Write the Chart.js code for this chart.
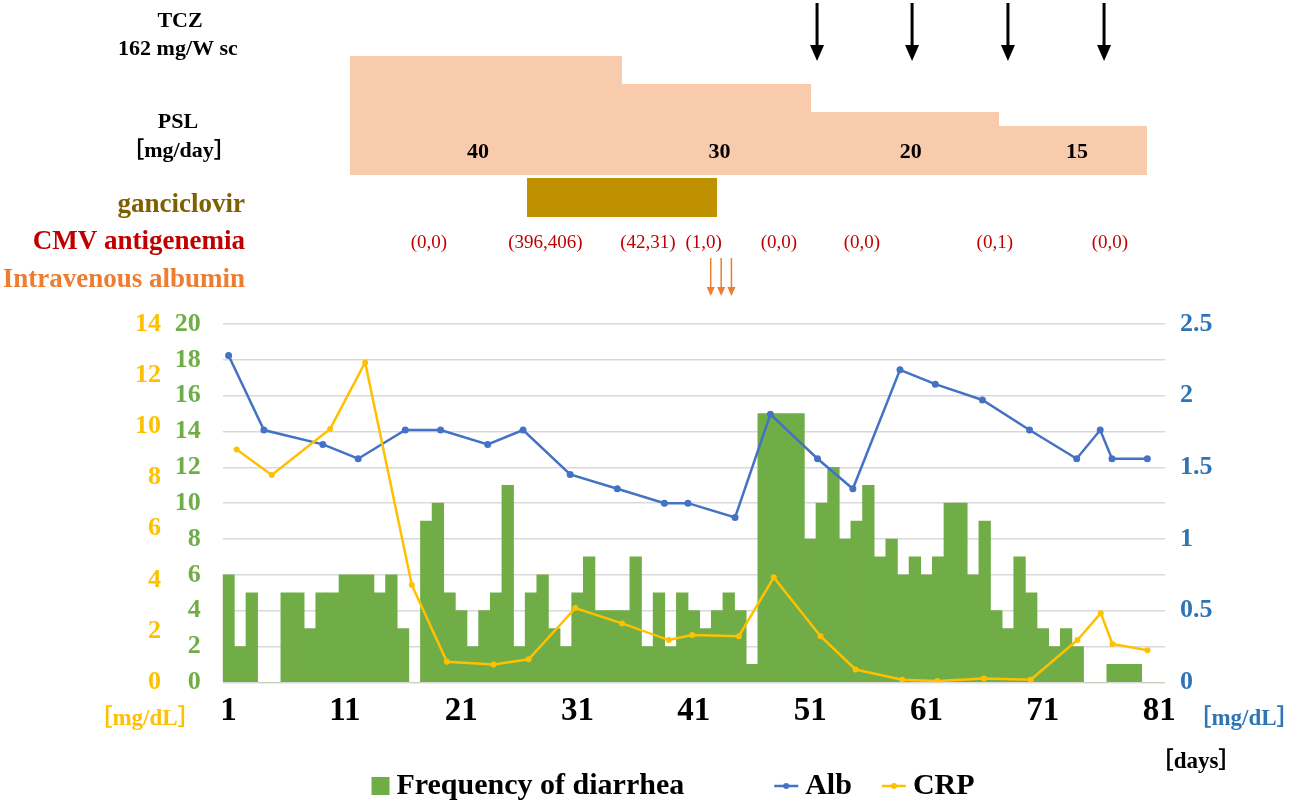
<!DOCTYPE html>
<html>
<head>
<meta charset="utf-8">
<script src="https://cdn.jsdelivr.net/npm/chart.js@4.4.1/dist/chart.umd.min.js"></script>
<style>
  html, body { margin: 0; padding: 0; background: #fff; }
  #wrap { width: 1299px; height: 805px; }
</style>
</head>
<body>
<div id="wrap"><canvas id="chart" width="1299" height="805"></canvas></div>
<script>
// day categories for the bars
const days = Array.from({ length: 81 }, (_, i) => String(i + 1));

// frequency of diarrhea per day (day 1 .. 81)
const diarrhea = [
  6, 2, 5, 0, 0, 5, 5, 3, 5, 5,
  6, 6, 6, 5, 6, 3, 0, 9, 10, 5,
  4, 2, 4, 5, 11, 2, 5, 6, 3, 2,
  5, 7, 4, 4, 4, 7, 2, 5, 2, 5,
  4, 3, 4, 5, 4, 1, 15, 15, 15, 15,
  8, 10, 12, 8, 9, 11, 7, 8, 6, 7,
  6, 7, 10, 10, 6, 9, 4, 3, 7, 5,
  3, 2, 3, 2, 0, 0, 1, 1, 1, 0, 0
];

// lab sampling days and values
const sampleDays = [1, 4, 9, 12, 16, 19, 23, 26, 30, 34, 38, 40, 44, 47, 51, 54, 58, 61, 65, 69, 73, 75, 76, 79];
const albValues = [2.28, 1.76, 1.66, 1.56, 1.76, 1.76, 1.66, 1.76, 1.45, 1.35, 1.25, 1.25, 1.15, 1.87, 1.56, 1.35, 2.18, 2.08, 1.97, 1.76, 1.56, 1.76, 1.56, 1.56];
const crpValues = [9.1, 8.1, 9.9, 12.5, 3.8, 0.8, 0.7, 0.9, 2.9, 2.3, 1.65, 1.85, 1.8, 4.1, 1.8, 0.5, 0.1, 0.05, 0.15, 0.1, 1.65, 2.7, 1.5, 1.25];

// treatment timeline (in day units)
const pslDoses = [40, 30, 20, 15];
const pslStarts = [11.44, 34.82, 51.07, 67.23];
const pslEnd = 79.95;
const pslLabelDays = [22.44, 43.2, 59.65, 73.93];
const ganciclovir = [26.66, 42.99];
const tczDays = [51.59, 59.76, 68.0, 76.26];
const cmvDays = [18.23, 28.24, 37.05, 41.85, 48.31, 55.45, 66.87, 76.77];
const cmvLabels = ["(0,0)", "(396,406)", "(42,31)", "(1,0)", "(0,0)", "(0,0)", "(0,1)", "(0,0)"];
const albuminDays = [42.45, 43.35, 44.23];

const serif = "'Liberation Serif', 'Times New Roman', serif";
const cjkSerif = "'Liberation Serif', 'Noto Sans CJK JP', serif";
const GREEN = '#70AD47', BLUE = '#4472C4', YELLOW = '#FFC000', AXBLUE = '#2E75B6';

// legend markers, drawn at the right end of a 34px canvas
function marker(color, kind) {
  const c = document.createElement('canvas');
  c.width = 34; c.height = 22;
  const g = c.getContext('2d');
  g.fillStyle = color;
  g.strokeStyle = color;
  if (kind === 'box') {
    g.fillRect(15, 2, 18, 18);
  } else {
    g.lineWidth = 2.5;
    g.beginPath(); g.moveTo(9, 11); g.lineTo(33, 11); g.stroke();
    g.beginPath(); g.arc(21, 11, 3, 0, Math.PI * 2); g.fill();
  }
  return c;
}
const markers = [marker(GREEN, 'box'), marker(BLUE, 'line'), marker(YELLOW, 'line')];

const timeline = {
  id: 'timeline',
  afterDraw(chart) {
    const g = chart.ctx;
    const xs = chart.scales.x;
    const dayX = d => xs.getPixelForValue(d - 1);
    g.save();

    // PSL steps
    g.fillStyle = '#F8CBAD';
    pslDoses.forEach((dose, i) => {
      const x0 = dayX(pslStarts[i]);
      const x1 = dayX(i + 1 < pslStarts.length ? pslStarts[i + 1] : pslEnd);
      const h = 7 + 2.8 * dose;
      g.fillRect(x0, 175 - h, x1 - x0, h);
    });
    g.fillStyle = '#000';
    g.font = 'bold 22px ' + serif;
    g.textAlign = 'center';
    g.textBaseline = 'middle';
    pslDoses.forEach((dose, i) => g.fillText(String(dose), dayX(pslLabelDays[i]), 152));

    // ganciclovir
    g.fillStyle = '#BF9000';
    g.fillRect(dayX(ganciclovir[0]), 178, dayX(ganciclovir[1]) - dayX(ganciclovir[0]), 39);

    // TCZ arrows
    g.strokeStyle = '#000';
    g.fillStyle = '#000';
    g.lineWidth = 3;
    tczDays.forEach(d => {
      const x = dayX(d);
      g.beginPath(); g.moveTo(x, 3); g.lineTo(x, 48); g.stroke();
      g.beginPath(); g.moveTo(x - 7, 45); g.lineTo(x + 7, 45); g.lineTo(x, 61); g.closePath(); g.fill();
    });

    // CMV antigenemia values
    g.fillStyle = '#C00000';
    g.font = '19px ' + serif;
    cmvDays.forEach((d, i) => g.fillText(cmvLabels[i], dayX(d), 243));

    // intravenous albumin arrows
    g.strokeStyle = '#ED7D31';
    g.fillStyle = '#ED7D31';
    g.lineWidth = 1.5;
    albuminDays.forEach(d => {
      const x = dayX(d);
      g.beginPath(); g.moveTo(x, 258); g.lineTo(x, 289); g.stroke();
      g.beginPath(); g.moveTo(x - 4, 287); g.lineTo(x + 4, 287); g.lineTo(x, 296); g.closePath(); g.fill();
    });

    // row labels
    g.fillStyle = '#000';
    g.font = 'bold 22px ' + serif;
    g.fillText('TCZ', 180, 21);
    g.fillText('162 mg/W sc', 178, 49);
    g.fillText('PSL', 178, 122);
    g.font = 'bold 22px ' + cjkSerif;
    g.fillText('［mg/day］', 179, 151);
    g.textAlign = 'right';
    g.font = 'bold 27px ' + serif;
    g.fillStyle = '#7F6000';
    g.fillText('ganciclovir', 245, 205);
    g.fillStyle = '#C00000';
    g.fillText('CMV antigenemia', 245, 242);
    g.fillStyle = '#ED7D31';
    g.fillText('Intravenous albumin', 245, 280);

    // unit labels
    g.textAlign = 'center';
    g.font = 'bold 23px ' + cjkSerif;
    g.fillStyle = YELLOW;
    g.fillText('［mg/dL］', 145, 719);
    g.fillStyle = AXBLUE;
    g.fillText('［mg/dL］', 1244, 719);
    g.fillStyle = '#000';
    g.fillText('［days］', 1196, 762);
    g.restore();
  }
};

const tickFont = { family: serif, size: 26, weight: 'bold' };

const chart = new Chart(document.getElementById('chart').getContext('2d'), {
  type: 'bar',
  data: {
    labels: days,
    datasets: [
      {
        label: 'Frequency of diarrhea',
        data: diarrhea,
        backgroundColor: GREEN,
        barPercentage: 1,
        categoryPercentage: 1,
        grouped: false,
        yAxisID: 'y',
        xAxisID: 'x',
        order: 3
      },
      {
        type: 'line',
        label: 'Alb',
        data: sampleDays.map((d, i) => ({ x: d, y: albValues[i] })),
        borderColor: BLUE,
        backgroundColor: BLUE,
        borderWidth: 2.5,
        pointRadius: 3.5,
        pointBorderWidth: 0,
        tension: 0,
        xAxisID: 'xAlb',
        yAxisID: 'yAlb',
        order: 2
      },
      {
        type: 'line',
        label: 'CRP',
        data: sampleDays.map((d, i) => ({ x: d, y: crpValues[i] })),
        borderColor: YELLOW,
        backgroundColor: YELLOW,
        borderWidth: 2.5,
        pointRadius: 3,
        pointBorderWidth: 0,
        tension: 0,
        xAxisID: 'xCrp',
        yAxisID: 'yCrp',
        order: 1
      }
    ]
  },
  options: {
    responsive: false,
    animation: false,
    events: [],
    layout: { padding: { top: 324, left: 120, right: 64, bottom: -6 } },
    scales: {
      x: {
        type: 'category',
        grid: { display: false, drawTicks: false },
        border: { display: false },
        ticks: {
          autoSkip: false,
          maxRotation: 0,
          padding: 9,
          color: '#000',
          font: { family: serif, size: 33, weight: 'bold' },
          callback: (v, i) => (i % 10 === 0 ? days[i] : '')
        },
        afterFit: s => { s.height = 58.7; }
      },
      xAlb: { type: 'linear', display: false, offset: false, min: 0.5, max: 80.5 },
      xCrp: { type: 'linear', display: false, offset: false, min: -0.2, max: 80.5 },
      y: {
        position: 'left',
        min: 0, max: 20,
        weight: 0,
        grid: { color: '#D9D9D9', lineWidth: 1.5, drawTicks: false },
        border: { display: false },
        ticks: { stepSize: 2, padding: 22, color: GREEN, font: tickFont },
        afterFit: s => { s.width = 52.7; }
      },
      yCrp: {
        position: 'left',
        min: 0, max: 14,
        weight: 1,
        grid: { display: false, drawTicks: false },
        border: { display: false },
        ticks: { stepSize: 2, padding: 9, color: YELLOW, font: tickFont },
        afterFit: s => { s.width = 50; }
      },
      yAlb: {
        position: 'right',
        min: 0, max: 2.5,
        grid: { display: false, drawTicks: false },
        border: { display: false },
        ticks: {
          stepSize: 0.5, padding: 15, color: AXBLUE, font: tickFont,
          callback: v => String(Math.round(v * 10) / 10)
        },
        afterFit: s => { s.width = 70; }
      }
    },
    plugins: {
      tooltip: { enabled: false },
      legend: {
        position: 'bottom',
        labels: {
          usePointStyle: true,
          pointStyleWidth: 16,
          padding: 30,
          color: '#000',
          font: { family: serif, size: 30, weight: 'bold' },
          generateLabels(chart) {
            const items = Chart.defaults.plugins.legend.labels.generateLabels(chart);
            items.sort((a, b) => a.datasetIndex - b.datasetIndex);
            items.forEach(it => {
              it.pointStyle = markers[it.datasetIndex];
              if (it.datasetIndex === 0) it.text += '        ';
              if (it.datasetIndex === 2) it.text += '  ';
            });
            return items;
          }
        }
      }
    }
  },
  plugins: [timeline]
});
</script>
</body>
</html>
